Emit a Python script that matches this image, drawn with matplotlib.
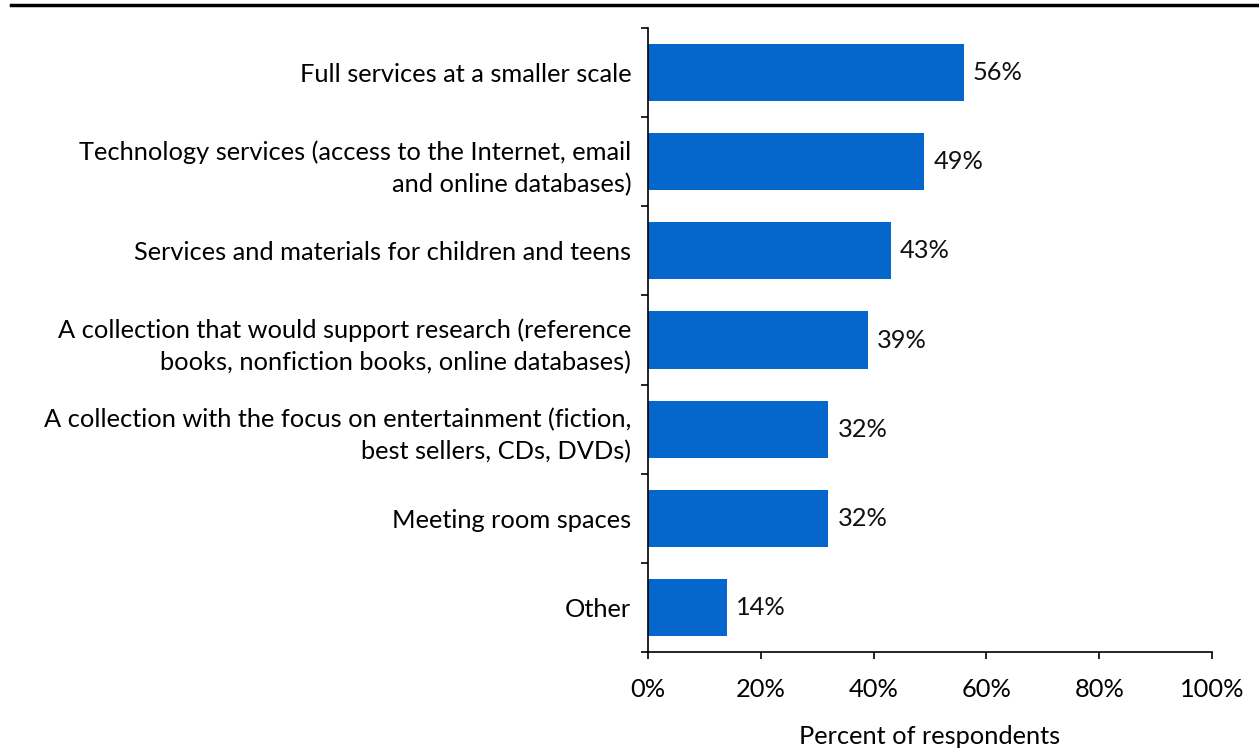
import matplotlib
matplotlib.use("Agg")
from matplotlib import pyplot as plt
from matplotlib.lines import Line2D

categories = [
    "Full services at a smaller scale",
    "Technology services (access to the Internet, email\nand online databases)",
    "Services and materials for children and teens",
    "A collection that would support research (reference\nbooks, nonfiction books, online databases)",
    "A collection with the focus on entertainment (fiction,\nbest sellers, CDs, DVDs)",
    "Meeting room spaces",
    "Other",
]
values = [56, 49, 43, 39, 32, 32, 14]
xticks = [0, 20, 40, 60, 80, 100]

plt.rcParams['font.family'] = ['Lato', 'DejaVu Sans']
fs = 18.3

fig = plt.figure(figsize=(12.59, 7.51), dpi=100)
ax = fig.add_axes([648/1259, 1-652/751, (1212-648)/1259, (652-28)/751])

pos = list(range(len(categories)))
ax.barh(pos, values, height=0.64, color="#0566cc")
for p, v in zip(pos, values):
    ax.text(v + 1.6, p, f"{v}%", va="center", ha="left", fontsize=fs, color="#111111")

ax.set_ylim(len(categories) - 0.5, -0.5)
ax.set_xlim(0, 100)
ax.set_xticks(xticks)
ax.set_xticklabels([f"{t}%" for t in xticks], fontsize=fs)
ax.set_yticks(pos)
ax.set_yticklabels(categories, fontsize=fs, linespacing=1.45)
ax.tick_params(axis="y", length=0, pad=12)
# tick marks on category boundaries
ax.set_yticks([i - 0.5 for i in range(len(categories) + 1)], minor=True)
ax.tick_params(axis="y", which="minor", length=5, width=1.2, direction="out")
ax.tick_params(axis="x", length=5, width=1.2, direction="out", pad=14)
ax.set_xlabel("Percent of respondents", fontsize=fs, labelpad=17)

ax.spines["top"].set_visible(False)
ax.spines["right"].set_visible(False)
ax.spines["left"].set_linewidth(1.2)
ax.spines["bottom"].set_linewidth(1.2)

fig.add_artist(Line2D([11/1259, 1], [1-5/751, 1-5/751], color="black", linewidth=2.5, transform=fig.transFigure))

fig.savefig("out.png", dpi=100)
